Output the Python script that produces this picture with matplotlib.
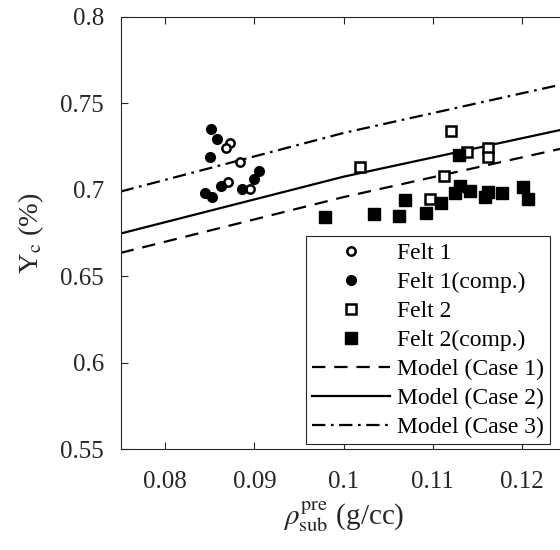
import matplotlib
matplotlib.use("Agg")
import matplotlib.pyplot as plt

plt.rcParams['font.family'] = ['Liberation Serif', 'DejaVu Serif']
plt.rcParams['mathtext.fontset'] = 'stix'

# Felt 1 (open circles)
felt1_x = [0.0873, 0.0868, 0.0884, 0.0870, 0.0895]
felt1_y = [0.7273, 0.7242, 0.7161, 0.7047, 0.7003]
# Felt 1 (comp.) filled circles
felt1c_x = [0.0851, 0.0858, 0.0850, 0.0905, 0.0899, 0.0862, 0.0886, 0.0845, 0.0852]
felt1c_y = [0.7350, 0.7292, 0.7188, 0.7111, 0.7064, 0.7022, 0.7006, 0.6980, 0.6957]
# Felt 2 (open squares)
felt2_x = [0.1018, 0.1120, 0.1138, 0.1162, 0.1162, 0.1113, 0.1097]
felt2_y = [0.7130, 0.7342, 0.7220, 0.7244, 0.7192, 0.7080, 0.6945]
# Felt 2 (comp.) filled squares
felt2c_x = [0.0979, 0.1034, 0.1062, 0.1069, 0.1092, 0.1109, 0.1129, 0.1130, 0.1125,
            0.1142, 0.1162, 0.1158, 0.1178, 0.1201, 0.1207]
felt2c_y = [0.6841, 0.6858, 0.6850, 0.6941, 0.6864, 0.6922, 0.7201, 0.7022, 0.6983,
            0.6995, 0.6989, 0.6957, 0.6983, 0.7014, 0.6945]
# Model curves
model_x = [0.075, 0.100, 0.125]
case1_y = [0.6635, 0.6958, 0.7245]
case2_y = [0.6747, 0.7076, 0.7354]
case3_y = [0.6990, 0.7329, 0.7616]

xticks = [0.08, 0.09, 0.10, 0.11, 0.12]
xticklabels = ['0.08', '0.09', '0.1', '0.11', '0.12']
yticks = [0.55, 0.60, 0.65, 0.70, 0.75, 0.80]
yticklabels = ['0.55', '0.6', '0.65', '0.7', '0.75', '0.8']

fig = plt.figure(figsize=(5.6, 5.5), dpi=100)
ax = fig.add_axes([0.2155, 0.1836, 0.7963, 0.7855])

ax.plot(felt1_x, felt1_y, 'o', ms=6, mfc='white', mec='black', mew=1.8, label='Felt 1', zorder=3)
ax.plot(felt1c_x, felt1c_y, 'o', ms=7, mfc='black', mec='black', mew=1, label='Felt 1(comp.)', zorder=3)
ax.plot(felt2_x, felt2_y, 's', ms=7, mfc='white', mec='black', mew=1.8, label='Felt 2', zorder=3)
ax.plot(felt2c_x, felt2c_y, 's', ms=8, mfc='black', mec='black', mew=1, label='Felt 2(comp.)', zorder=3)
ax.plot(model_x, case1_y, color='black', lw=1.6, linestyle=(0, (6, 4)), label='Model (Case 1)')
ax.plot(model_x, case2_y, color='black', lw=1.6, linestyle='-', label='Model (Case 2)')
ax.plot(model_x, case3_y, color='black', lw=1.6, linestyle=(0, (6, 2.5, 1.2, 2.5)), label='Model (Case 3)')

ax.set_xlim(0.075, 0.125)
ax.set_ylim(0.55, 0.80)
ax.set_xticks(xticks)
ax.set_xticklabels(xticklabels)
ax.set_yticks(yticks)
ax.set_yticklabels(yticklabels)
ax.tick_params(direction='in', length=5, width=0.8, top=True, right=True,
               labelsize=18, colors='#262626', labelcolor='#262626')
ax.tick_params(axis='x', pad=16)
ax.tick_params(axis='y', pad=12)
for s in ax.spines.values():
    s.set_color('#262626')
    s.set_linewidth(0.8)

ax.set_xlabel(r'$\rho_{\rm sub}^{\rm pre}$ (g/cc)', fontsize=21, color='#262626', labelpad=4)
ax.set_ylabel(r'Y$_{\rm c}$ (%)', fontsize=20.5, color='#262626', labelpad=10)

leg = ax.legend(loc='lower right', bbox_to_anchor=(0.962, 0.011), fontsize=17,
                handlelength=3.3, handletextpad=0.3, borderpad=0.25, labelspacing=0.32,
                fancybox=False, edgecolor='#262626', framealpha=1, borderaxespad=0)
leg.get_frame().set_linewidth(0.8)

fig.savefig('out.png', dpi=100)
